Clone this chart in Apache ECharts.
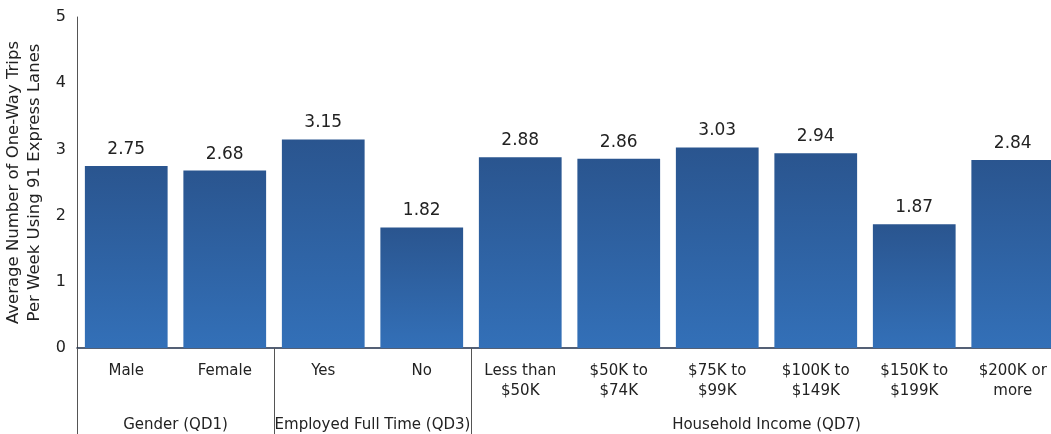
<!DOCTYPE html>
<html>
<head>
<meta charset="utf-8">
<script src="https://cdn.jsdelivr.net/npm/echarts@6/dist/echarts.min.js"></script>
<style>
html, body { margin: 0; padding: 0; background: #fff; }
#chart { width: 1051px; height: 434px; }
</style>
</head>
<body>
<div id="chart"></div>
<script>
const categories = ['Male', 'Female', 'Yes', 'No', 'Less than\n$50K', '$50K to\n$74K', '$75K to\n$99K', '$100K to\n$149K', '$150K to\n$199K', '$200K or\nmore'];
const values = [2.75, 2.68, 3.15, 1.82, 2.88, 2.86, 3.03, 2.94, 1.87, 2.84];
const groupNames = ['Gender (QD1)', 'Employed Full Time (QD3)', 'Household Income (QD7)'];
const groupSizes = [2, 2, 6];
const yTicks = [0, 1, 2, 3, 4, 5];

// group axis: one slot per category boundary, label at the middle of each group
const groupAxis = new Array(categories.length + 1).fill('');
const groupStarts = [];
let pos = 0;
groupNames.forEach((name, i) => {
    groupStarts.push(pos);
    groupAxis[pos + groupSizes[i] / 2] = name;
    pos += groupSizes[i];
});

const font = 'DejaVu Sans';
const chart = echarts.init(document.getElementById('chart'));

chart.setOption({
    animation: false,
    textStyle: { fontFamily: font, color: '#222' },
    grid: { left: 77, right: -11, top: 17, bottom: 86, containLabel: false, outerBoundsMode: 'none' },
    xAxis: [
        {
            type: 'category',
            data: categories,
            axisLine: { show: true, lineStyle: { color: '#1c2c48', width: 1.5 } },
            axisTick: { show: false },
            axisLabel: { interval: 0, margin: 13, fontSize: 15, lineHeight: 20, color: '#222', fontFamily: font }
        },
        {
            type: 'category',
            data: groupAxis,
            position: 'bottom',
            offset: 86,
            boundaryGap: false,
            axisLine: { show: false },
            axisTick: {
                show: true,
                inside: true,
                length: 86,
                interval: (idx) => groupStarts.includes(idx),
                lineStyle: { color: '#555', width: 1 }
            },
            axisLabel: { interval: 0, inside: true, margin: 1, fontSize: 15, color: '#222', fontFamily: font }
        }
    ],
    yAxis: {
        type: 'value',
        min: yTicks[0],
        max: yTicks[yTicks.length - 1],
        interval: 1,
        name: 'Average Number of One-Way Trips\nPer Week Using 91 Express Lanes',
        nameLocation: 'middle',
        nameGap: 26,
        nameTextStyle: { fontSize: 16.5, lineHeight: 21, color: '#222', fontFamily: font },
        axisLine: { show: true, lineStyle: { color: '#555', width: 1 } },
        axisTick: { show: false },
        splitLine: { show: false },
        axisLabel: { margin: 11, fontSize: 16, color: '#222', fontFamily: font }
    },
    series: [{
        type: 'bar',
        xAxisIndex: 0,
        data: values,
        barCategoryGap: '16%',
        itemStyle: {
            color: new echarts.graphic.LinearGradient(0, 0, 0, 1, [
                { offset: 0, color: '#2a558f' },
                { offset: 1, color: '#3370b8' }
            ])
        },
        label: {
            show: true,
            position: 'top',
            distance: 8,
            fontSize: 17,
            color: '#222',
            fontFamily: font,
            formatter: (p) => p.value.toFixed(2)
        }
    }]
});
</script>
</body>
</html>
